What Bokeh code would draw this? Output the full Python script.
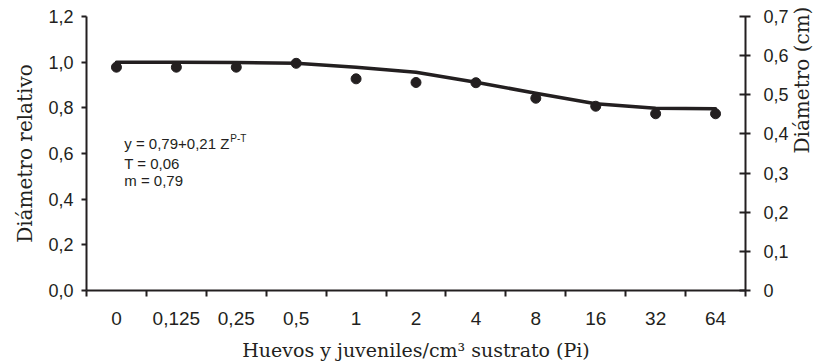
import math
from bokeh.plotting import figure
from bokeh.models import LinearAxis, Range1d, FixedTicker, CustomJSTickFormatter, Label
from bokeh.embed import file_html
from bokeh.resources import INLINE

# ---- data ----
x_labels = ["0", "0,125", "0,25", "0,5", "1", "2", "4", "8", "16", "32", "64"]
obs_rel = [0.978, 0.978, 0.978, 0.995, 0.927, 0.911, 0.910, 0.842, 0.807, 0.774, 0.774]
fit_rel = [1.0, 1.0, 0.998, 0.995, 0.978, 0.956, 0.912, 0.864, 0.818, 0.798, 0.796]
left_ticks = [0.0, 0.2, 0.4, 0.6, 0.8, 1.0, 1.2]
right_ticks = [0.0, 0.1, 0.2, 0.3, 0.4, 0.5, 0.6, 0.7]

INK = "#231f20"
SANS = "Liberation Sans"
SERIF = "DejaVu Serif"
xs = [i + 0.5 for i in range(len(x_labels))]

p = figure(width=828, height=364, x_range=Range1d(0, len(x_labels)), y_range=Range1d(0, 1.2),
           output_backend="svg", toolbar_location=None,
           min_border_left=86, min_border_right=78, min_border_top=16, min_border_bottom=74)
p.outline_line_color = None
p.xgrid.visible = False
p.ygrid.visible = False
p.background_fill_color = "white"
p.border_fill_color = "white"

p.extra_y_ranges = {"cm": Range1d(0, 0.7)}

# bottom axis
xa = p.xaxis[0]
xa.ticker = FixedTicker(ticks=xs, minor_ticks=list(range(len(x_labels) + 1)))
xa.major_label_overrides = {x: lab for x, lab in zip(xs, x_labels)}
xa.major_tick_out = 0
xa.major_tick_in = 0
xa.minor_tick_out = 6
xa.minor_tick_in = 0
xa.minor_tick_line_color = INK
xa.minor_tick_line_width = 2
xa.axis_line_color = INK
xa.axis_line_width = 2
xa.major_label_text_font = SANS
xa.major_label_text_font_size = "19px"
xa.major_label_text_color = INK
xa.major_label_standoff = 15
xa.axis_label = "Huevos y juveniles/cm³ sustrato (Pi)"
xa.axis_label_text_font = SERIF
xa.axis_label_text_font_style = "normal"
xa.axis_label_text_font_size = "19px"
xa.axis_label_text_color = INK
xa.axis_label_standoff = 11

# left axis
ya = p.yaxis[0]
ya.ticker = FixedTicker(ticks=left_ticks)
ya.formatter = CustomJSTickFormatter(code="return tick.toFixed(1).replace('.', ',');")
ya.major_tick_out = 5
ya.major_tick_in = 0
ya.minor_tick_out = 0
ya.minor_tick_in = 0
ya.major_tick_line_color = INK
ya.major_tick_line_width = 2
ya.axis_line_color = INK
ya.axis_line_width = 2
ya.major_label_text_font = SANS
ya.major_label_text_font_size = "18px"
ya.major_label_text_color = INK
ya.major_label_standoff = 8
ya.axis_label = "Diámetro relativo"
ya.axis_label_text_font = SERIF
ya.axis_label_text_font_style = "normal"
ya.axis_label_text_font_size = "20px"
ya.axis_label_text_color = INK
ya.axis_label_standoff = 8

# right axis (cm scale)
ra = LinearAxis(y_range_name="cm")
ra.ticker = FixedTicker(ticks=right_ticks)
ra.formatter = CustomJSTickFormatter(code="return tick == 0 ? '0' : tick.toFixed(1).replace('.', ',');")
ra.major_tick_out = 5
ra.major_tick_in = 6
ra.minor_tick_out = 0
ra.minor_tick_in = 0
ra.major_tick_line_color = INK
ra.major_tick_line_width = 2
ra.axis_line_color = INK
ra.axis_line_width = 2
ra.major_label_text_font = SANS
ra.major_label_text_font_size = "18px"
ra.major_label_text_color = INK
ra.major_label_standoff = 13
p.add_layout(ra, "right")

# right-side title carried by a bare axis (no line, no ticks), reading bottom-to-top
ta = LinearAxis(bounds=(0.0, 0.526))
ta.ticker = FixedTicker(ticks=[])
ta.axis_line_color = None
ta.major_tick_out = 0
ta.major_tick_in = 0
ta.minor_tick_out = 0
ta.minor_tick_in = 0
ta.major_label_text_font_size = "0px"
ta.axis_label = "Diámetro (cm)"
ta.axis_label_text_font = SERIF
ta.axis_label_text_font_style = "normal"
ta.axis_label_text_font_size = "20px"
ta.axis_label_text_color = INK
ta.axis_label_standoff = 10
ta.axis_label_orientation = math.pi / 2
p.add_layout(ta, "right")

# fitted curve and observations
p.line(xs, fit_rel, line_color=INK, line_width=3.5, line_join="round", line_cap="round")
p.scatter(xs, obs_rel, size=10, fill_color=INK, line_color=INK)

# equation annotation
fs = "15px"
p.add_layout(Label(x=0.63, y=0.644, text="y = 0,79+0,21 Z", text_font=SANS,
                   text_font_size=fs, text_color=INK, text_baseline="alphabetic"))
p.add_layout(Label(x=0.63, y=0.644, x_offset=106, y_offset=5, text="P-T", text_font=SANS,
                   text_font_size="10px", text_color=INK, text_baseline="alphabetic"))
p.add_layout(Label(x=0.63, y=0.556, text="T = 0,06", text_font=SANS,
                   text_font_size=fs, text_color=INK, text_baseline="alphabetic"))
p.add_layout(Label(x=0.63, y=0.482, text="m = 0,79", text_font=SANS,
                   text_font_size=fs, text_color=INK, text_baseline="alphabetic"))

open("out.html", "w").write(file_html(p, INLINE))
